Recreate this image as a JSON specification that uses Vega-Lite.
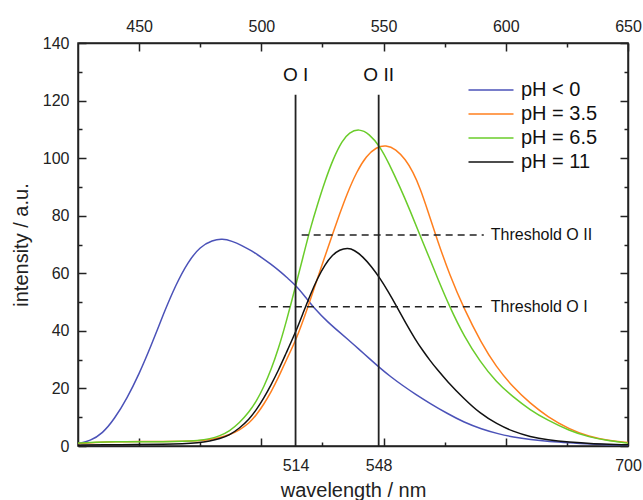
{
  "$schema": "https://vega.github.io/schema/vega-lite/v6.json",
  "autosize": "none",
  "width": 550,
  "height": 403,
  "padding": {"left": 78, "top": 43, "right": 15, "bottom": 54},
  "background": "white",
  "config": {
    "font": "Liberation Sans",
    "view": {"stroke": "#222", "strokeWidth": 1.5},
    "axis": {
      "domainColor": "#222", "domainWidth": 1.5, "tickColor": "#222", "tickWidth": 1.5,
      "labelFont": "Liberation Sans", "labelFontSize": 16, "labelColor": "#222",
      "titleFont": "Liberation Sans", "titleFontSize": 20, "titleFontWeight": "normal", "titleColor": "#222",
      "grid": false, "labelOverlap": false, "labelFlush": false
    }
  },
  "datasets": {
    "spectra": [
      {"series": "pH < 0", "wavelength": 425, "intensity": 0.8},
      {"series": "pH < 0", "wavelength": 430, "intensity": 1.8},
      {"series": "pH < 0", "wavelength": 435, "intensity": 4.3},
      {"series": "pH < 0", "wavelength": 440, "intensity": 9.5},
      {"series": "pH < 0", "wavelength": 445, "intensity": 16.5},
      {"series": "pH < 0", "wavelength": 450, "intensity": 25},
      {"series": "pH < 0", "wavelength": 455, "intensity": 35},
      {"series": "pH < 0", "wavelength": 460, "intensity": 46},
      {"series": "pH < 0", "wavelength": 465, "intensity": 56},
      {"series": "pH < 0", "wavelength": 470, "intensity": 64},
      {"series": "pH < 0", "wavelength": 475, "intensity": 69.3},
      {"series": "pH < 0", "wavelength": 480, "intensity": 71.5},
      {"series": "pH < 0", "wavelength": 484, "intensity": 72},
      {"series": "pH < 0", "wavelength": 488, "intensity": 71.2},
      {"series": "pH < 0", "wavelength": 492, "intensity": 69.7},
      {"series": "pH < 0", "wavelength": 496, "intensity": 67.8},
      {"series": "pH < 0", "wavelength": 500, "intensity": 65.6},
      {"series": "pH < 0", "wavelength": 504, "intensity": 63.1},
      {"series": "pH < 0", "wavelength": 508, "intensity": 60.4},
      {"series": "pH < 0", "wavelength": 511, "intensity": 58.1},
      {"series": "pH < 0", "wavelength": 514, "intensity": 55.9},
      {"series": "pH < 0", "wavelength": 518, "intensity": 51.8},
      {"series": "pH < 0", "wavelength": 522, "intensity": 47.5},
      {"series": "pH < 0", "wavelength": 527, "intensity": 43.2},
      {"series": "pH < 0", "wavelength": 532, "intensity": 39.5},
      {"series": "pH < 0", "wavelength": 536, "intensity": 36.6},
      {"series": "pH < 0", "wavelength": 540, "intensity": 33.6},
      {"series": "pH < 0", "wavelength": 544, "intensity": 30.5},
      {"series": "pH < 0", "wavelength": 548, "intensity": 27.5},
      {"series": "pH < 0", "wavelength": 553, "intensity": 24},
      {"series": "pH < 0", "wavelength": 558, "intensity": 20.9},
      {"series": "pH < 0", "wavelength": 563, "intensity": 18},
      {"series": "pH < 0", "wavelength": 569, "intensity": 14.8},
      {"series": "pH < 0", "wavelength": 576, "intensity": 11.3},
      {"series": "pH < 0", "wavelength": 583, "intensity": 8.2},
      {"series": "pH < 0", "wavelength": 590, "intensity": 5.9},
      {"series": "pH < 0", "wavelength": 597, "intensity": 4.2},
      {"series": "pH < 0", "wavelength": 603, "intensity": 3.1},
      {"series": "pH < 0", "wavelength": 610, "intensity": 2.2},
      {"series": "pH < 0", "wavelength": 618, "intensity": 1.5},
      {"series": "pH < 0", "wavelength": 626, "intensity": 1.1},
      {"series": "pH < 0", "wavelength": 635, "intensity": 0.7},
      {"series": "pH < 0", "wavelength": 643, "intensity": 0.4},
      {"series": "pH < 0", "wavelength": 650, "intensity": 0.3},

      {"series": "pH = 3.5", "wavelength": 425, "intensity": 0.8},
      {"series": "pH = 3.5", "wavelength": 432, "intensity": 1.2},
      {"series": "pH = 3.5", "wavelength": 440, "intensity": 1.5},
      {"series": "pH = 3.5", "wavelength": 450, "intensity": 1.6},
      {"series": "pH = 3.5", "wavelength": 460, "intensity": 1.6},
      {"series": "pH = 3.5", "wavelength": 468, "intensity": 1.6},
      {"series": "pH = 3.5", "wavelength": 474, "intensity": 1.8},
      {"series": "pH = 3.5", "wavelength": 479, "intensity": 2.2},
      {"series": "pH = 3.5", "wavelength": 483, "intensity": 2.9},
      {"series": "pH = 3.5", "wavelength": 487, "intensity": 3.9},
      {"series": "pH = 3.5", "wavelength": 491, "intensity": 5.5},
      {"series": "pH = 3.5", "wavelength": 495, "intensity": 7.9},
      {"series": "pH = 3.5", "wavelength": 498, "intensity": 10.8},
      {"series": "pH = 3.5", "wavelength": 501, "intensity": 14.5},
      {"series": "pH = 3.5", "wavelength": 504, "intensity": 18.8},
      {"series": "pH = 3.5", "wavelength": 507, "intensity": 23.8},
      {"series": "pH = 3.5", "wavelength": 510, "intensity": 29.5},
      {"series": "pH = 3.5", "wavelength": 514, "intensity": 36.5},
      {"series": "pH = 3.5", "wavelength": 517, "intensity": 43.3},
      {"series": "pH = 3.5", "wavelength": 520, "intensity": 50.7},
      {"series": "pH = 3.5", "wavelength": 523, "intensity": 58.3},
      {"series": "pH = 3.5", "wavelength": 526, "intensity": 65.8},
      {"series": "pH = 3.5", "wavelength": 529, "intensity": 73.3},
      {"series": "pH = 3.5", "wavelength": 532, "intensity": 80.5},
      {"series": "pH = 3.5", "wavelength": 535, "intensity": 87.5},
      {"series": "pH = 3.5", "wavelength": 539, "intensity": 95.3},
      {"series": "pH = 3.5", "wavelength": 543, "intensity": 100.8},
      {"series": "pH = 3.5", "wavelength": 547, "intensity": 103.8},
      {"series": "pH = 3.5", "wavelength": 551, "intensity": 104.6},
      {"series": "pH = 3.5", "wavelength": 555, "intensity": 103.2},
      {"series": "pH = 3.5", "wavelength": 559, "intensity": 99.5},
      {"series": "pH = 3.5", "wavelength": 562, "intensity": 95.3},
      {"series": "pH = 3.5", "wavelength": 565, "intensity": 89.5},
      {"series": "pH = 3.5", "wavelength": 568, "intensity": 82},
      {"series": "pH = 3.5", "wavelength": 572, "intensity": 71.5},
      {"series": "pH = 3.5", "wavelength": 577, "intensity": 59.5},
      {"series": "pH = 3.5", "wavelength": 583, "intensity": 47.5},
      {"series": "pH = 3.5", "wavelength": 590, "intensity": 35.8},
      {"series": "pH = 3.5", "wavelength": 596, "intensity": 27.6},
      {"series": "pH = 3.5", "wavelength": 603, "intensity": 20.4},
      {"series": "pH = 3.5", "wavelength": 610, "intensity": 14.8},
      {"series": "pH = 3.5", "wavelength": 617, "intensity": 10.2},
      {"series": "pH = 3.5", "wavelength": 626, "intensity": 5.8},
      {"series": "pH = 3.5", "wavelength": 634, "intensity": 3.3},
      {"series": "pH = 3.5", "wavelength": 642, "intensity": 1.9},
      {"series": "pH = 3.5", "wavelength": 650, "intensity": 1.2},

      {"series": "pH = 6.5", "wavelength": 425, "intensity": 1.0},
      {"series": "pH = 6.5", "wavelength": 432, "intensity": 1.3},
      {"series": "pH = 6.5", "wavelength": 440, "intensity": 1.5},
      {"series": "pH = 6.5", "wavelength": 450, "intensity": 1.5},
      {"series": "pH = 6.5", "wavelength": 460, "intensity": 1.5},
      {"series": "pH = 6.5", "wavelength": 468, "intensity": 1.6},
      {"series": "pH = 6.5", "wavelength": 474, "intensity": 1.9},
      {"series": "pH = 6.5", "wavelength": 479, "intensity": 2.5},
      {"series": "pH = 6.5", "wavelength": 483, "intensity": 3.5},
      {"series": "pH = 6.5", "wavelength": 487, "intensity": 5.2},
      {"series": "pH = 6.5", "wavelength": 491, "intensity": 8},
      {"series": "pH = 6.5", "wavelength": 495, "intensity": 11.8},
      {"series": "pH = 6.5", "wavelength": 498, "intensity": 15.6},
      {"series": "pH = 6.5", "wavelength": 501, "intensity": 20.5},
      {"series": "pH = 6.5", "wavelength": 504, "intensity": 26.5},
      {"series": "pH = 6.5", "wavelength": 507, "intensity": 33.8},
      {"series": "pH = 6.5", "wavelength": 510, "intensity": 42.5},
      {"series": "pH = 6.5", "wavelength": 514, "intensity": 55.5},
      {"series": "pH = 6.5", "wavelength": 517, "intensity": 65.5},
      {"series": "pH = 6.5", "wavelength": 520, "intensity": 75.5},
      {"series": "pH = 6.5", "wavelength": 523, "intensity": 84},
      {"series": "pH = 6.5", "wavelength": 526, "intensity": 92},
      {"series": "pH = 6.5", "wavelength": 529.5, "intensity": 100},
      {"series": "pH = 6.5", "wavelength": 533, "intensity": 106},
      {"series": "pH = 6.5", "wavelength": 536, "intensity": 109},
      {"series": "pH = 6.5", "wavelength": 540, "intensity": 110.2},
      {"series": "pH = 6.5", "wavelength": 544, "intensity": 108.6},
      {"series": "pH = 6.5", "wavelength": 548.6, "intensity": 104},
      {"series": "pH = 6.5", "wavelength": 552, "intensity": 98.5},
      {"series": "pH = 6.5", "wavelength": 556.7, "intensity": 90},
      {"series": "pH = 6.5", "wavelength": 561, "intensity": 81.5},
      {"series": "pH = 6.5", "wavelength": 565, "intensity": 73},
      {"series": "pH = 6.5", "wavelength": 569, "intensity": 64.8},
      {"series": "pH = 6.5", "wavelength": 572, "intensity": 58.5},
      {"series": "pH = 6.5", "wavelength": 577, "intensity": 48.4},
      {"series": "pH = 6.5", "wavelength": 583, "intensity": 38},
      {"series": "pH = 6.5", "wavelength": 589.5, "intensity": 29.3},
      {"series": "pH = 6.5", "wavelength": 596, "intensity": 22.3},
      {"series": "pH = 6.5", "wavelength": 603, "intensity": 17},
      {"series": "pH = 6.5", "wavelength": 610, "intensity": 12.5},
      {"series": "pH = 6.5", "wavelength": 617, "intensity": 9},
      {"series": "pH = 6.5", "wavelength": 626, "intensity": 5.3},
      {"series": "pH = 6.5", "wavelength": 634, "intensity": 3.1},
      {"series": "pH = 6.5", "wavelength": 642, "intensity": 1.8},
      {"series": "pH = 6.5", "wavelength": 650, "intensity": 1.0},

      {"series": "pH = 11", "wavelength": 425, "intensity": 0.3},
      {"series": "pH = 11", "wavelength": 435, "intensity": 0.4},
      {"series": "pH = 11", "wavelength": 450, "intensity": 0.5},
      {"series": "pH = 11", "wavelength": 460, "intensity": 0.6},
      {"series": "pH = 11", "wavelength": 468, "intensity": 0.8},
      {"series": "pH = 11", "wavelength": 474, "intensity": 1.1},
      {"series": "pH = 11", "wavelength": 479, "intensity": 1.7},
      {"series": "pH = 11", "wavelength": 483, "intensity": 2.5},
      {"series": "pH = 11", "wavelength": 487, "intensity": 3.8},
      {"series": "pH = 11", "wavelength": 491, "intensity": 6.1},
      {"series": "pH = 11", "wavelength": 495, "intensity": 9.3},
      {"series": "pH = 11", "wavelength": 498, "intensity": 12.6},
      {"series": "pH = 11", "wavelength": 501, "intensity": 16.6},
      {"series": "pH = 11", "wavelength": 504, "intensity": 21.3},
      {"series": "pH = 11", "wavelength": 507, "intensity": 26.3},
      {"series": "pH = 11", "wavelength": 510, "intensity": 32},
      {"series": "pH = 11", "wavelength": 514, "intensity": 39.5},
      {"series": "pH = 11", "wavelength": 517, "intensity": 46},
      {"series": "pH = 11", "wavelength": 520, "intensity": 52.5},
      {"series": "pH = 11", "wavelength": 523, "intensity": 58.3},
      {"series": "pH = 11", "wavelength": 526, "intensity": 63},
      {"series": "pH = 11", "wavelength": 529, "intensity": 66.3},
      {"series": "pH = 11", "wavelength": 532, "intensity": 68.2},
      {"series": "pH = 11", "wavelength": 535.4, "intensity": 68.8},
      {"series": "pH = 11", "wavelength": 538, "intensity": 68.1},
      {"series": "pH = 11", "wavelength": 541.5, "intensity": 65.8},
      {"series": "pH = 11", "wavelength": 545, "intensity": 62.4},
      {"series": "pH = 11", "wavelength": 548.6, "intensity": 58.2},
      {"series": "pH = 11", "wavelength": 552, "intensity": 53.5},
      {"series": "pH = 11", "wavelength": 555.4, "intensity": 48.4},
      {"series": "pH = 11", "wavelength": 559, "intensity": 42.8},
      {"series": "pH = 11", "wavelength": 563, "intensity": 37},
      {"series": "pH = 11", "wavelength": 566, "intensity": 33.2},
      {"series": "pH = 11", "wavelength": 569, "intensity": 29.7},
      {"series": "pH = 11", "wavelength": 572, "intensity": 26.5},
      {"series": "pH = 11", "wavelength": 576, "intensity": 22.5},
      {"series": "pH = 11", "wavelength": 582.7, "intensity": 16.6},
      {"series": "pH = 11", "wavelength": 589.5, "intensity": 11.3},
      {"series": "pH = 11", "wavelength": 596.3, "intensity": 7.7},
      {"series": "pH = 11", "wavelength": 603, "intensity": 5},
      {"series": "pH = 11", "wavelength": 610, "intensity": 3.2},
      {"series": "pH = 11", "wavelength": 617, "intensity": 2.1},
      {"series": "pH = 11", "wavelength": 626, "intensity": 1.3},
      {"series": "pH = 11", "wavelength": 635, "intensity": 0.8},
      {"series": "pH = 11", "wavelength": 650, "intensity": 0.4}
    ],
    "markers": [
      {"label": "O I", "wavelength": 514},
      {"label": "O II", "wavelength": 548}
    ],
    "thresholds": [
      {"label": "Threshold O I", "intensity": 48.4, "start": 499, "end": 591},
      {"label": "Threshold O II", "intensity": 73.3, "start": 516.5, "end": 591}
    ]
  },
  "layer": [
    {
      "data": {"name": "spectra"},
      "mark": {"type": "line", "strokeWidth": 1.5, "interpolate": "basis"},
      "encoding": {
        "x": {
          "field": "wavelength", "type": "quantitative",
          "scale": {"domain": [425, 650], "nice": false, "zero": false},
          "axis": {
            "orient": "bottom", "title": "wavelength / nm", "titlePadding": 7,
            "values": [450, 475, 500, 514, 525, 548, 550, 575, 600, 625, 650],
            "tickSize": {"condition": [
              {"test": "datum.value === 514 || datum.value === 548 || datum.value === 650", "value": 0},
              {"test": "datum.value % 50 === 0", "value": -8}
            ], "value": -4},
            "labelExpr": "datum.value === 514 ? '514' : datum.value === 548 ? '548' : datum.value === 650 ? '700' : ''",
            "labelPadding": 11
          }
        },
        "y": {
          "field": "intensity", "type": "quantitative",
          "scale": {"domain": [0, 140], "nice": false},
          "axis": {
            "orient": "left", "title": "intensity / a.u.", "titlePadding": 11,
            "values": [0, 10, 20, 30, 40, 50, 60, 70, 80, 90, 100, 110, 120, 130, 140],
            "tickSize": {"condition": {"test": "datum.value % 20 === 0", "value": -8}, "value": -4},
            "labelExpr": "datum.value % 20 === 0 ? datum.label : ''",
            "labelPadding": 17
          }
        },
        "color": {
          "field": "series", "type": "nominal",
          "scale": {"domain": ["pH < 0", "pH = 3.5", "pH = 6.5", "pH = 11"], "range": ["#4b52b8", "#ff7f1e", "#6acc2a", "#111111"]},
          "legend": {
            "orient": "none", "legendX": 403, "legendY": 37, "title": null,
            "symbolType": "M-2.5,0H2.5", "symbolSize": 324, "symbolStrokeWidth": 1.5, "rowPadding": 4,
            "labelFontSize": 20, "labelFont": "Liberation Sans", "labelColor": "#111", "labelOffset": 20
          }
        }
      }
    },
    {
      "data": {"name": "markers"},
      "mark": {"type": "rule", "color": "#222", "strokeWidth": 1.8},
      "encoding": {
        "x": {
          "field": "wavelength", "type": "quantitative",
          "axis": {
            "orient": "top", "title": null,
            "values": [450, 475, 500, 525, 550, 575, 600, 625, 650],
            "tickSize": {"condition": {"test": "datum.value % 50 === 0", "value": -8}, "value": -4},
            "labelExpr": "datum.value % 50 === 0 ? datum.label : ''",
            "labelPadding": 17
          }
        },
        "y": {
          "datum": 0, "type": "quantitative",
          "axis": {
            "orient": "right", "title": null,
            "values": [0, 10, 20, 30, 40, 50, 60, 70, 80, 90, 100, 110, 120, 130, 140],
            "tickSize": {"condition": {"test": "datum.value % 20 === 0", "value": -8}, "value": -4},
            "labels": false
          }
        },
        "y2": {"datum": 122}
      }
    },
    {
      "data": {"name": "markers"},
      "mark": {"type": "text", "fontSize": 19, "color": "#111", "baseline": "middle", "align": "center"},
      "encoding": {
        "x": {"field": "wavelength", "type": "quantitative", "axis": null},
        "y": {"datum": 129, "type": "quantitative", "axis": null},
        "text": {"field": "label"}
      }
    },
    {
      "data": {"name": "thresholds"},
      "mark": {"type": "rule", "color": "#222", "strokeWidth": 1.5, "strokeDash": [7, 5]},
      "encoding": {
        "x": {"field": "start", "type": "quantitative", "axis": null},
        "x2": {"field": "end"},
        "y": {"field": "intensity", "type": "quantitative", "axis": null}
      }
    },
    {
      "data": {"name": "thresholds"},
      "mark": {"type": "text", "fontSize": 16, "color": "#111", "baseline": "middle", "align": "left", "dx": 7},
      "encoding": {
        "x": {"field": "end", "type": "quantitative", "axis": null},
        "y": {"field": "intensity", "type": "quantitative", "axis": null},
        "text": {"field": "label"}
      }
    }
  ],
  "resolve": {"axis": {"x": "independent", "y": "independent"}}
}
